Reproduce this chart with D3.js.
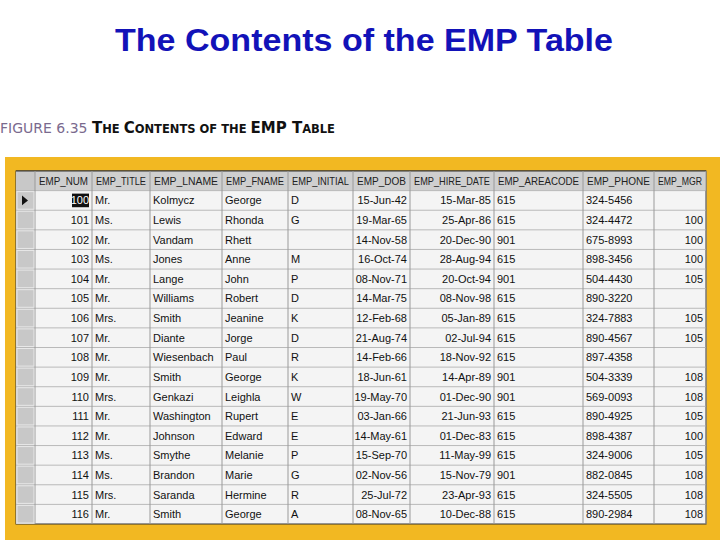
<!DOCTYPE html>
<html><head><meta charset="utf-8">
<script src="https://cdn.jsdelivr.net/npm/d3@7"></script>
<style>body{margin:0;background:#fff}</style>
</head><body>
<svg id="chart" width="720" height="540"></svg>
<script>
const columns = ["EMP_NUM","EMP_TITLE","EMP_LNAME","EMP_FNAME","EMP_INITIAL","EMP_DOB","EMP_HIRE_DATE","EMP_AREACODE","EMP_PHONE","EMP_MGR"];
const empNum = [100,101,102,103,104,105,106,107,108,109,110,111,112,113,114,115,116];
const empTitle = ["Mr.","Ms.","Mr.","Ms.","Mr.","Mr.","Mrs.","Mr.","Mr.","Mr.","Mrs.","Mr.","Mr.","Ms.","Ms.","Mrs.","Mr."];
const empLname = ["Kolmycz","Lewis","Vandam","Jones","Lange","Williams","Smith","Diante","Wiesenbach","Smith","Genkazi","Washington","Johnson","Smythe","Brandon","Saranda","Smith"];
const empFname = ["George","Rhonda","Rhett","Anne","John","Robert","Jeanine","Jorge","Paul","George","Leighla","Rupert","Edward","Melanie","Marie","Hermine","George"];
const empInitial = ["D","G","","M","P","D","K","D","R","K","W","E","E","P","G","R","A"];
const empDob = ["15-Jun-42","19-Mar-65","14-Nov-58","16-Oct-74","08-Nov-71","14-Mar-75","12-Feb-68","21-Aug-74","14-Feb-66","18-Jun-61","19-May-70","03-Jan-66","14-May-61","15-Sep-70","02-Nov-56","25-Jul-72","08-Nov-65"];
const empHire = ["15-Mar-85","25-Apr-86","20-Dec-90","28-Aug-94","20-Oct-94","08-Nov-98","05-Jan-89","02-Jul-94","18-Nov-92","14-Apr-89","01-Dec-90","21-Jun-93","01-Dec-83","11-May-99","15-Nov-79","23-Apr-93","10-Dec-88"];
const empArea = ["615","615","901","615","901","615","615","615","615","901","901","615","615","615","901","615","615"];
const empPhone = ["324-5456","324-4472","675-8993","898-3456","504-4430","890-3220","324-7883","890-4567","897-4358","504-3339","569-0093","890-4925","898-4387","324-9006","882-0845","324-5505","890-2984"];
const empMgr = ["",100,100,100,105,"",105,105,"",108,108,105,100,105,108,108,108];

// layout (not data)
const colEdges = [35,92,150,222,288,353,410,494,583,654,706];
const rightAligned = [true,false,false,false,false,true,true,false,false,true];

const rows = empNum.map((d,i)=>[d,empTitle[i],empLname[i],empFname[i],empInitial[i],empDob[i],empHire[i],empArea[i],empPhone[i],empMgr[i]]);

const svg = d3.select("#chart");
const font = "Liberation Sans, Arial, sans-serif";

svg.append("text").attr("x",364).attr("y",51).attr("text-anchor","middle")
  .attr("font-family",font).attr("font-weight","bold").attr("font-size",31).attr("fill","#1212b8")
  .attr("textLength",498).attr("lengthAdjust","spacingAndGlyphs")
  .text("The Contents of the EMP Table");

const cap = svg.append("text").attr("x",0).attr("y",133).attr("font-family","DejaVu Sans, sans-serif");
cap.append("tspan").attr("font-size",14).attr("fill","#7a6a8e").text("FIGURE 6.35  ");
cap.append("tspan").attr("font-size",15).attr("font-weight","bold").attr("fill","#111").text("T");
cap.append("tspan").attr("font-size",11.5).attr("font-weight","bold").attr("fill","#111").text("HE ");
cap.append("tspan").attr("font-size",15).attr("font-weight","bold").attr("fill","#111").text("C");
cap.append("tspan").attr("font-size",11.5).attr("font-weight","bold").attr("fill","#111").text("ONTENTS OF THE ");
cap.append("tspan").attr("font-size",15).attr("font-weight","bold").attr("fill","#111").text("EMP T");
cap.append("tspan").attr("font-size",11.5).attr("font-weight","bold").attr("fill","#111").text("ABLE");

// yellow frame
svg.append("rect").attr("x",5).attr("y",157).attr("width",715).attr("height",383).attr("fill","#f2b822");

const y = d3.scaleBand().domain(d3.range(-1, rows.length)).range([171, 524]).padding(0);
const x0 = 16;

svg.append("rect").attr("x",x0).attr("y",171).attr("width",706-x0).attr("height",524-171).attr("fill","#f4f4f4").attr("stroke","#333");
svg.append("rect").attr("x",x0).attr("y",y(-1)).attr("width",706-x0).attr("height",y.bandwidth()).attr("fill","#cfcfcf");
svg.append("rect").attr("x",x0).attr("y",171).attr("width",35-x0).attr("height",524-171).attr("fill","#c8c8c8");

const g = svg.append("g").attr("font-family",font).attr("font-size",11).attr("fill","#111");

d3.range(0, rows.length+1).forEach(i=>{
  g.append("line").attr("x1",x0).attr("x2",706).attr("y1",y(i-1)).attr("y2",y(i-1))
   .attr("stroke", i===0?"#333":"#b9b9b9").attr("stroke-width",1);
});
colEdges.forEach(e=>{
  g.append("line").attr("x1",e).attr("x2",e).attr("y1",171).attr("y2",524).attr("stroke","#9a9a9a");
});
rows.forEach((r,i)=>{
  g.append("rect").attr("x",x0+1).attr("y",y(i)+1).attr("width",35-x0-2).attr("height",y.bandwidth()-2)
   .attr("fill","none").attr("stroke","#e8e8e8");
});

// header text, condensed to fit
columns.forEach((c,j)=>{
  const t = g.append("text").attr("x",(colEdges[j]+colEdges[j+1])/2).attr("y",y(-1)+y.bandwidth()/2+4)
   .attr("text-anchor","middle").attr("font-size",10.5).attr("fill","#222").text(c);
  const w = colEdges[j+1]-colEdges[j]-8;
  if (t.node().getComputedTextLength() > w) t.attr("textLength",w).attr("lengthAdjust","spacingAndGlyphs");
});

// highlight of the selected cell
g.append("rect").attr("x",72).attr("y",y(0)+3).attr("width",17).attr("height",y.bandwidth()-6).attr("fill","#111");

rows.forEach((r,i)=>{
  r.forEach((v,j)=>{
    const right = rightAligned[j];
    g.append("text")
      .attr("x", right ? colEdges[j+1]-3 : colEdges[j]+3)
      .attr("y", y(i)+y.bandwidth()/2+4)
      .attr("text-anchor", right ? "end" : "start")
      .attr("fill", i===0 && j===0 ? "#fff" : "#111")
      .text(v);
  });
});

g.append("path").attr("d",`M22,${y(0)+5}L22,${y(0)+y.bandwidth()-5}L28,${y(0)+y.bandwidth()/2}Z`).attr("fill","#111");
</script>
</body></html>
